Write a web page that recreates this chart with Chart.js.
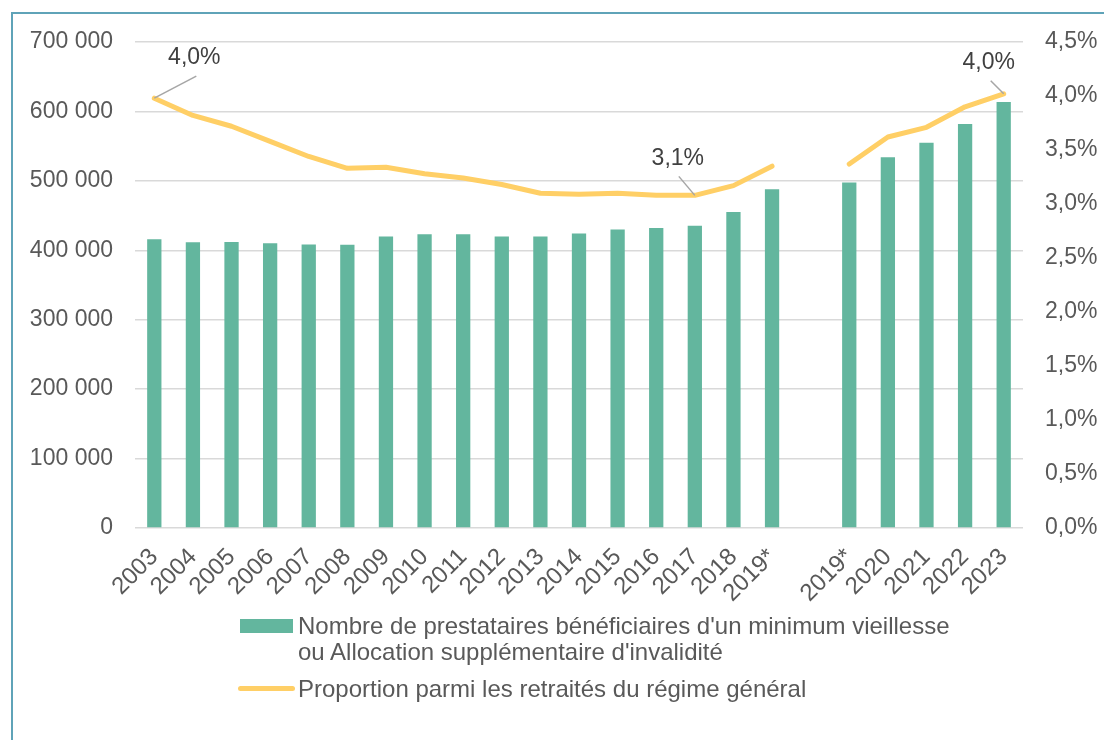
<!DOCTYPE html>
<html>
<head>
<meta charset="utf-8">
<script src="https://cdn.jsdelivr.net/npm/chart.js@4"></script>
<style>
  body { margin: 0; background: #fff; font-family: "Liberation Sans", Arial, sans-serif; }
  #wrap { position: relative; width: 1104px; height: 740px; overflow: hidden; }
  #frame { position: absolute; left: 11px; top: 12px; width: 1200px; height: 800px;
           border-left: 2px solid #5fa3b8; border-top: 2px solid #5fa3b8; }
  .leg { position: absolute; color: #595959; font-size: 24px; line-height: 26px; white-space: nowrap; }
</style>
</head>
<body>
<div id="wrap">
  <div id="frame"></div>
  <canvas id="chart"></canvas>
  <div style="position:absolute;left:240px;top:619px;width:53px;height:14px;background:#63b69e;"></div>
  <div class="leg" style="left:298px;top:613px;">Nombre de prestataires bénéficiaires d'un minimum vieillesse<br>ou Allocation supplémentaire d'invalidité</div>
  <div style="position:absolute;left:238px;top:686px;width:57px;height:5px;border-radius:3px;background:#ffcf66;"></div>
  <div class="leg" style="left:298px;top:676px;">Proportion parmi les retraités du régime général</div>
</div>
<script>
// données
const annees = ['2003', '2004', '2005', '2006', '2007', '2008', '2009', '2010', '2011', '2012',
                '2013', '2014', '2015', '2016', '2017', '2018', '2019*', '', '2019*', '2020',
                '2021', '2022', '2023'];
const beneficiaires = [416000, 411500, 412000, 410000, 408500, 408000, 420000, 423000, 423000, 420000,
                       420000, 424000, 430000, 432000, 435500, 455000, 488000, null, 497500, 534000,
                       555000, 582000, 613500];
const proportion = [3.98, 3.82, 3.72, 3.58, 3.44, 3.33, 3.34, 3.28, 3.24, 3.18,
                    3.10, 3.09, 3.10, 3.08, 3.08, 3.17, 3.35, null, 3.37, 3.62,
                    3.71, 3.90, 4.02];
const etiquettes = ['4,0%', '3,1%', '4,0%'];
const etiquettesIndex = [0, 14, 22];

// position des étiquettes (décalage par rapport au point)
const decalages = [
    { tx: 40, ty: -41, lx: 42, ly: -22 },
    { tx: -17, ty: -37, lx: -16, ly: -19 },
    { tx: -15, ty: -31, lx: -13, ly: -13 }
];

const fontTxt = { family: '"Liberation Sans", Arial, sans-serif', size: 23 };

const etiquettesPlugin = {
    id: 'etiquettes',
    afterDatasetsDraw(chart) {
        const ctx = chart.ctx;
        const meta = chart.getDatasetMeta(1);
        ctx.save();
        etiquettesIndex.forEach((idx, k) => {
            const p = meta.data[idx];
            const d = decalages[k];
            ctx.strokeStyle = '#a6a6a6';
            ctx.lineWidth = 1.5;
            ctx.beginPath();
            ctx.moveTo(p.x, p.y);
            ctx.lineTo(p.x + d.lx, p.y + d.ly);
            ctx.stroke();
            ctx.fillStyle = '#404040';
            ctx.font = '23px "Liberation Sans", Arial, sans-serif';
            ctx.textAlign = 'center';
            ctx.textBaseline = 'middle';
            ctx.fillText(etiquettes[k], p.x + d.tx, p.y + d.ty);
        });
        ctx.restore();
    }
};

new Chart(document.getElementById('chart'), {
    type: 'bar',
    data: {
        labels: annees,
        datasets: [{
            type: 'bar',
            label: 'Nombre de prestataires',
            data: beneficiaires,
            backgroundColor: '#63b69e',
            yAxisID: 'y',
            categoryPercentage: 1,
            barPercentage: 0.37,
            order: 1
        }, {
            type: 'line',
            label: 'Proportion',
            data: proportion,
            borderColor: '#ffcf66',
            borderWidth: 5,
            pointRadius: 0,
            tension: 0,
            spanGaps: false,
            borderCapStyle: 'round',
            borderJoinStyle: 'round',
            yAxisID: 'y1',
            order: 0
        }]
    },
    options: {
        responsive: true,
        maintainAspectRatio: false,
        animation: false,
        layout: { padding: { top: 42, left: 0, right: 0, bottom: 0 } },
        plugins: { legend: { display: false }, tooltip: { enabled: false } },
        scales: {
            x: {
                grid: { display: false },
                border: { display: false },
                ticks: {
                    autoSkip: false, maxRotation: 45, minRotation: 45,
                    color: '#595959', font: { family: fontTxt.family, size: 24 }, padding: 7
                },
                afterFit(scale) { scale.height = 212; }
            },
            y: {
                position: 'left',
                min: 0, max: 700000,
                grid: { color: '#d9d9d9', lineWidth: 1.5, drawTicks: false },
                border: { display: false },
                ticks: {
                    stepSize: 100000, color: '#595959', font: fontTxt, padding: 22,
                    callback: v => v.toString().replace(/\B(?=(\d{3})+(?!\d))/g, ' ')
                },
                afterFit(scale) { scale.width = 135; }
            },
            y1: {
                position: 'right',
                min: 0, max: 4.5,
                grid: { display: false, drawTicks: false },
                border: { display: false },
                ticks: {
                    stepSize: 0.5, color: '#595959', font: fontTxt, padding: 22,
                    callback: v => v.toFixed(1).replace('.', ',') + '%'
                },
                afterFit(scale) { scale.width = 81; }
            }
        }
    },
    plugins: [etiquettesPlugin]
});
</script>
</body>
</html>
